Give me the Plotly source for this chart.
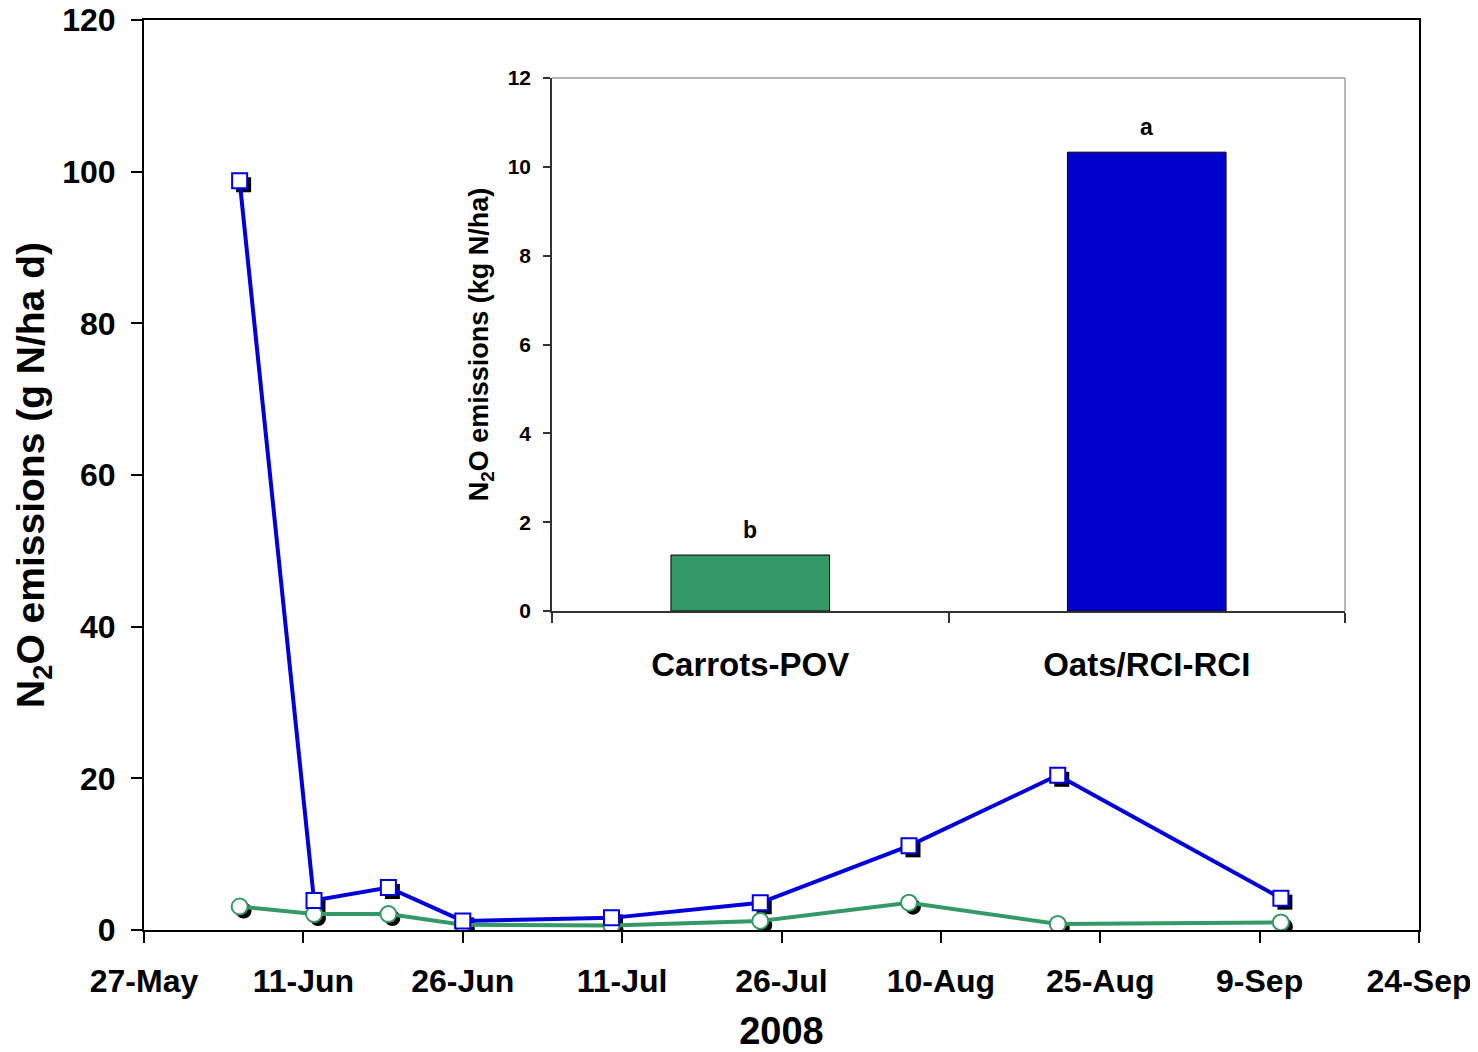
import plotly.graph_objects as go

# ---- data ----
dates = ["2008-06-05", "2008-06-12", "2008-06-19", "2008-06-26", "2008-07-10",
         "2008-07-24", "2008-08-07", "2008-08-21", "2008-09-11"]
oats_rci = [98.8, 3.9, 5.6, 1.2, 1.6, 3.6, 11.1, 20.4, 4.2]
carrots_pov = [3.1, 2.1, 2.1, 0.7, 0.6, 1.2, 3.6, 0.8, 1.0]

tick_dates = ["2008-05-27", "2008-06-11", "2008-06-26", "2008-07-11", "2008-07-26",
              "2008-08-10", "2008-08-25", "2008-09-09", "2008-09-24"]
tick_labels = ["27-May", "11-Jun", "26-Jun", "11-Jul", "26-Jul",
               "10-Aug", "25-Aug", "9-Sep", "24-Sep"]
y_ticks = [0, 20, 40, 60, 80, 100, 120]

treatments = ["Carrots-POV", "Oats/RCI-RCI"]
total_emissions = [1.26, 10.33]
letters = ["b", "a"]
inset_ticks = [0, 2, 4, 6, 8, 10, 12]


def bold(items):
    return ["<b>%s</b>" % s for s in items]


# ---- style ----
FONT = "Liberation Sans, Arial, sans-serif"
BLUE_LINE = "#0000DD"
BLUE_BAR = "#0000CC"
GREEN = "#339966"

# page body has an 8px margin -> figure sized so the plot lands where the reference has it
W, H = 1470, 1044
L, R, T, B = 136, 59, 12, 122
plot_w = W - L - R
plot_h = H - T - B

SQ = 15            # square marker size
CI = 16            # circle marker size
SHADOW = 4 * 2 ** 0.5   # shadow offset (px) along the down-right diagonal

fig = go.Figure()

# marker shadows: same points, marker pushed down-right by `standoff`
# (a diamond turned by -45 degrees is a square)
fig.add_trace(go.Scatter(x=dates, y=oats_rci, mode="markers",
                         marker=dict(symbol="diamond", size=SQ / 0.919, color="black",
                                     angle=-45, standoff=SHADOW, line=dict(width=0)),
                         hoverinfo="skip", showlegend=False))
fig.add_trace(go.Scatter(x=dates, y=carrots_pov, mode="markers",
                         marker=dict(symbol="circle", size=CI, color="black",
                                     angle=-45, standoff=SHADOW, line=dict(width=0)),
                         hoverinfo="skip", showlegend=False))

# main series
fig.add_trace(go.Scatter(x=dates, y=carrots_pov, mode="lines+markers",
                         name="Carrots-POV",
                         line=dict(color=GREEN, width=4),
                         marker=dict(symbol="circle", size=CI, color="white",
                                     line=dict(color=GREEN, width=2)),
                         showlegend=False))
fig.add_trace(go.Scatter(x=dates, y=oats_rci, mode="lines+markers",
                         name="Oats/RCI-RCI",
                         line=dict(color=BLUE_LINE, width=4),
                         marker=dict(symbol="square", size=SQ, color="white",
                                     line=dict(color=BLUE_LINE, width=2)),
                         showlegend=False))

# inset bars
fig.add_trace(go.Bar(x=treatments, y=total_emissions, xaxis="x2", yaxis="y2",
                     marker=dict(color=[GREEN, BLUE_BAR], line=dict(color="black", width=1)),
                     width=0.4, showlegend=False))

for t, v, lab in zip(treatments, total_emissions, letters):
    fig.add_annotation(x=t, y=v, xref="x2", yref="y2", text="<b>%s</b>" % lab,
                       showarrow=False, yshift=25,
                       font=dict(family=FONT, size=23, color="black"))

ix0, ix1 = (552 - 144) / plot_w, (1345 - 144) / plot_w
iy0, iy1 = (930 - 611) / plot_h, (930 - 78) / plot_h

fig.update_layout(
    width=W, height=H,
    margin=dict(l=L, r=R, t=T, b=B),
    paper_bgcolor="white", plot_bgcolor="white",
    font=dict(family=FONT, color="black"),
    xaxis=dict(type="date", range=[tick_dates[0], tick_dates[-1]],
               tickvals=tick_dates, ticktext=bold(tick_labels),
               ticks="outside", ticklen=11, tickwidth=2, tickcolor="black",
               showline=True, linecolor="black", linewidth=2, mirror=True,
               showgrid=False, zeroline=False, automargin=False, ticklabelstandoff=11,
               ticklabeloverflow="allow",
               tickfont=dict(family=FONT, size=32),
               title=dict(text="<b>2008</b>", font=dict(family=FONT, size=38), standoff=24)),
    yaxis=dict(range=[y_ticks[0], y_ticks[-1]], tickvals=y_ticks, ticktext=bold(y_ticks),
               ticks="outside", ticklen=11, tickwidth=2, tickcolor="black",
               showline=True, linecolor="black", linewidth=2, mirror=True,
               showgrid=False, zeroline=False, automargin=False, ticklabelstandoff=9,
               ticklabeloverflow="allow",
               tickfont=dict(family=FONT, size=32),
               title=dict(text="<b>N<sub>2</sub>O emissions (g N/ha d)</b>",
                          font=dict(family=FONT, size=39), standoff=6)),
    xaxis2=dict(domain=[ix0, ix1], anchor="y2", range=[-0.5, 1.5],
                tickvals=treatments, ticktext=bold(treatments),
                ticks="outside", tickson="boundaries", ticklen=10, tickwidth=1.5,
                tickcolor="#333333", showline=True, linecolor="#333333", linewidth=1.5,
                showgrid=False, zeroline=False, automargin=False, ticklabelstandoff=24,
                tickfont=dict(family=FONT, size=33)),
    yaxis2=dict(domain=[iy0, iy1], anchor="x2", range=[inset_ticks[0], inset_ticks[-1]],
                tickvals=inset_ticks, ticktext=bold(inset_ticks),
                ticks="outside", ticklen=7, tickwidth=1.5,
                tickcolor="#333333", showline=True, linecolor="#333333", linewidth=1.5,
                showgrid=False, zeroline=False, automargin=False, ticklabelstandoff=8,
                tickfont=dict(family=FONT, size=21),
                title=dict(text="<b>N<sub>2</sub>O emissions (kg N/ha)</b>",
                           font=dict(family=FONT, size=27), standoff=11)),
    shapes=[
        dict(type="line", xref="x2 domain", yref="y2 domain", x0=0, x1=1, y0=1, y1=1,
             line=dict(color="#A0A0A0", width=1.5)),
        dict(type="line", xref="x2 domain", yref="y2 domain", x0=1, x1=1, y0=0, y1=1,
             line=dict(color="#A0A0A0", width=1.5)),
    ],
)

fig.write_html("out.html")
